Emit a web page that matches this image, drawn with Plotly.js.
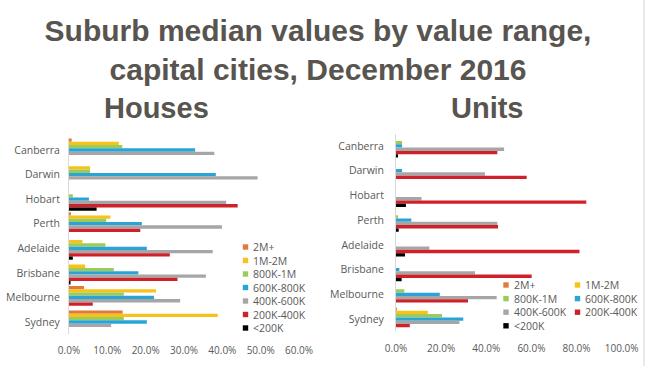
<!DOCTYPE html>
<html>
<head>
<meta charset="utf-8">
<script src="https://cdn.plot.ly/plotly-3.0.1.min.js"></script>
<style>html,body{margin:0;padding:0;background:#fff;}#chart{width:650px;height:366px;}</style>
</head>
<body>
<div id="chart"></div>
<script>
// ---- data (percent of suburbs) ----
var cities = ['Canberra','Darwin','Hobart','Perth','Adelaide','Brisbane','Melbourne','Sydney'];
var ranges = ['2M+','1M-2M','800K-1M','600K-800K','400K-600K','200K-400K','<200K'];

// Houses
var houses2M   = [0.7, 0,    0,    0.5,  0,    0,    3.9,  14.0];
var houses1M   = [13.0,5.5,  0,    10.8, 3.5,  4.2,  22.7, 38.8];
var houses800K = [13.9,5.5,  1.0,  9.7,  9.5,  11.7, 14.3, 14.3];
var houses600K = [32.9,38.3, 5.2,  19.0, 20.3, 18.1, 22.2, 20.3];
var houses400K = [37.9,49.2, 41.0, 39.9, 37.5, 35.7, 29.0, 11.0];
var houses200K = [0,   0,    44.0, 18.6, 26.3, 28.3, 6.2,  0];
var housesLt200K = [0, 0,    7.2,  0,    1.0,  0.4,  0,    0];

// Units
var units2M   = [0,   0,    0,    0,    0,    0,    0,    0.4];
var units1M   = [0,   0,    0,    0,    0,    0,    0,    14.1];
var units800K = [2.7, 0,    0,    0.9,  0,    0,    3.7,  20.4];
var units600K = [2.7, 2.7,  0,    6.8,  0,    1.5,  19.4, 29.8];
var units400K = [47.9,39.4, 11.3, 44.9, 14.8, 35.0, 44.6, 28.1];
var units200K = [44.9,57.9, 84.3, 45.2, 81.3, 60.1, 31.9, 6.1];
var unitsLt200K = [0.9,0,   4.4,  1.2,  4.0,  2.5,  0,    0];

var xTicksHouses = [0,10,20,30,40,50,60];
var xTicksUnits = [0,20,40,60,80,100];

var colors = ['#E07B39','#F7C21B','#9BCB5A','#2AA4D6','#A6A6A6','#D0202A','#000000'];

var housesSeries = [houses2M,houses1M,houses800K,houses600K,houses400K,houses200K,housesLt200K];
var unitsSeries = [units2M,units1M,units800K,units600K,units400K,units200K,unitsLt200K];

var W = 650, H = 366;
function px(x){return x/W;}
function py(y){return 1 - y/H;}
function pctLabel(v){return v.toFixed(1) + '%';}

var traces = [];
ranges.forEach(function(r,i){
  traces.push({type:'bar', orientation:'h', name:r, x:housesSeries[i], y:cities,
    xaxis:'x', yaxis:'y', marker:{color:colors[i]}, showlegend:false, hoverinfo:'x+y+name'});
});
ranges.forEach(function(r,i){
  traces.push({type:'bar', orientation:'h', name:r, x:unitsSeries[i], y:cities,
    xaxis:'x2', yaxis:'y2', marker:{color:colors[i]}, showlegend:false, hoverinfo:'x+y+name'});
});

var txtColor = '#595959';
var tickFont = {family:'Open Sans, sans-serif', size:10, color:txtColor};
var catFont = {family:'Open Sans, sans-serif', size:10.5, color:txtColor};
var headColor = '#58544f';

var shapes = [];
var annotations = [];

// subtitles
annotations.push({text:'<b>Houses</b>', x:px(156), y:py(108), xref:'paper', yref:'paper', xanchor:'center', yanchor:'middle', showarrow:false,
  font:{family:'Liberation Sans, Arial, sans-serif', size:29, color:headColor}});
annotations.push({text:'<b>Units</b>', x:px(487), y:py(108), xref:'paper', yref:'paper', xanchor:'center', yanchor:'middle', showarrow:false,
  font:{family:'Liberation Sans, Arial, sans-serif', size:29, color:headColor}});

// legends (manual, compact)
var legFont = {family:'Open Sans, sans-serif', size:10.5, color:txtColor};
ranges.forEach(function(r,i){
  var cx = 245.5, cy = 247 + 13.5*i;
  shapes.push({type:'rect', xref:'paper', yref:'paper', x0:px(cx-2.7), x1:px(cx+2.7), y0:py(cy+2.7), y1:py(cy-2.7), fillcolor:colors[i], line:{width:0}});
  annotations.push({text:r, x:px(cx+5.5), y:py(cy), xref:'paper', yref:'paper', xanchor:'left', yanchor:'middle', showarrow:false, font:legFont});
});
ranges.forEach(function(r,i){
  var col = i % 2, row = Math.floor(i/2);
  var cx = col === 0 ? 506 : 577.5, cy = 285 + 13.6*row;
  shapes.push({type:'rect', xref:'paper', yref:'paper', x0:px(cx-2.7), x1:px(cx+2.7), y0:py(cy+2.7), y1:py(cy-2.7), fillcolor:colors[i], line:{width:0}});
  annotations.push({text:r, x:px(cx+5.5), y:py(cy), xref:'paper', yref:'paper', xanchor:'left', yanchor:'middle', showarrow:false, font:legFont});
});

// slide frame line on the right
shapes.push({type:'line', xref:'paper', yref:'paper', x0:px(644), x1:px(644), y0:0, y1:py(0), line:{color:'#d4d4d4', width:1}});

var layout = {
  width: W, height: H,
  margin:{l:0,r:0,t:0,b:0},
  paper_bgcolor:'#ffffff', plot_bgcolor:'rgba(0,0,0,0)',
  showlegend:false,
  barmode:'group', bargap:0.06, bargroupgap:0,
  title:{text:'<b>Suburb median values by value range,<br>capital cities, December 2016</b>',
    font:{family:'Liberation Sans, Arial, sans-serif', size:30, color:headColor},
    x:px(318), xanchor:'center', xref:'paper', y:py(41), yanchor:'top', yref:'container'},
  xaxis:{domain:[px(69),px(299)], range:[0,60], tickvals:xTicksHouses, ticktext:xTicksHouses.map(pctLabel),
    showgrid:false, zeroline:false, showline:false, ticks:'', tickfont:tickFont, anchor:'y', ticklabelstandoff:9, fixedrange:true},
  yaxis:{domain:[py(334.3),py(137.7)], type:'category', categoryarray:cities, range:[7.5,-0.5],
    showgrid:false, zeroline:false, showline:true, linecolor:'#d9d9d9', linewidth:1, ticks:'', tickfont:catFont, anchor:'x', ticklabelstandoff:6, fixedrange:true},
  xaxis2:{domain:[px(396),px(621.7)], range:[0,100], tickvals:xTicksUnits, ticktext:xTicksUnits.map(pctLabel),
    showgrid:false, zeroline:false, showline:false, ticks:'', tickfont:tickFont, anchor:'y2', ticklabelstandoff:10, fixedrange:true},
  yaxis2:{domain:[py(331.4),py(133.6)], type:'category', categoryarray:cities, range:[7.5,-0.5],
    showgrid:false, zeroline:false, showline:true, linecolor:'#d9d9d9', linewidth:1, ticks:'', tickfont:catFont, anchor:'x2', ticklabelstandoff:9, fixedrange:true},
  shapes:shapes,
  annotations:annotations
};

Plotly.newPlot('chart', traces, layout, {displayModeBar:false, staticPlot:true});
</script>
</body>
</html>
